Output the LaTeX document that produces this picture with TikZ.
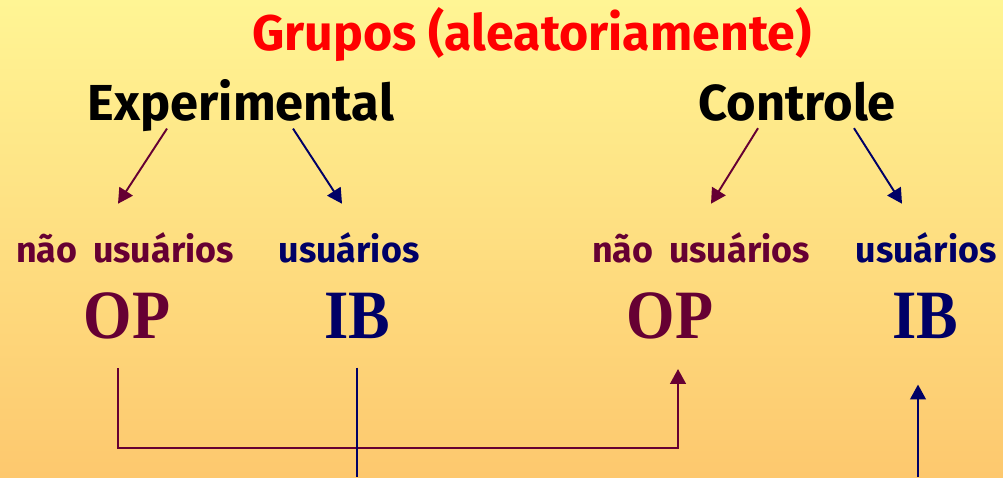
\documentclass[tikz,border=0pt]{standalone}
\usepackage{fontspec}
\setmainfont{Liberation Serif}
\newfontfamily\comicfont{Fira Sans}
\newfontfamily\opfont[FakeStretch=0.9]{Liberation Serif}
\usetikzlibrary{arrows.meta,calc}

\definecolor{vinho}{RGB}{102,0,51}
\definecolor{marinho}{RGB}{0,0,102}
\definecolor{fundotopo}{RGB}{255,245,148}
\definecolor{fundobase}{RGB}{253,200,110}

\tikzset{
  titulo/.style={anchor=base, inner sep=0pt, text=red, font=\comicfont\bfseries\fontsize{28.5}{32}\selectfont},
  grupo/.style={anchor=base, inner sep=0pt, font=\comicfont\bfseries\fontsize{28.8}{32}\selectfont},
  uso/.style={anchor=base, inner sep=0pt, font=\comicfont\bfseries\fontsize{20.4}{24}\selectfont},
  sigla/.style={anchor=base, inner sep=0pt, font=\opfont\bfseries\fontsize{39.4}{42}\selectfont},
  seta/.style={-{Triangle[length=8.5pt,width=9pt]}, line width=1.1pt},
  linha/.style={line width=1.3pt}
}

\begin{document}
\begin{tikzpicture}[x=0.02cm, y=-0.02cm]
  \shade[top color=fundotopo, bottom color=fundobase] (0,0) rectangle (1003,477);
  \useasboundingbox (0,0) rectangle (1003,477);

  \node[titulo] (tit) at (532,50) {Grupos (aleatoriamente)};
  \node[grupo] (exp) at (241,120) {Experimental};
  \node[grupo] (con) at (797,120) {Controle};

  \node[uso, text=vinho] (nu1) at (125,262) {não\hspace{4pt} usuários};
  \node[uso, text=marinho] (us1) at (349,262) {usuários};
  \node[uso, text=vinho] (nu2) at (701,262) {não\hspace{4pt} usuários};
  \node[uso, text=marinho] (us2) at (926,262) {usuários};

  \node[sigla, text=vinho] (op1) at (127,338) {OP};
  \node[sigla, text=marinho] (ib1) at (357,338) {IB};
  \node[sigla, text=vinho] (op2) at (670,338) {OP};
  \node[sigla, text=marinho] (ib2) at (925,338) {IB};

  % setas dos grupos
  \draw[seta, vinho] ($(exp.south)+(-74,-3)$) -- ($(nu1.north)+(-7,-28)$);
  \draw[seta, marinho] ($(exp.south)+(52,-3)$) -- ($(us1.north)+(-7,-28)$);
  \draw[seta, vinho] ($(con.south)+(-39,7)$) -- ($(nu2.north)+(10,-28)$);
  \draw[seta, marinho] ($(con.south)+(57,7)$) -- ($(us2.north)+(-24,-28)$);

  % ligacoes de baixo
  \coordinate (fim1) at (357,477);
  \coordinate (fim2) at (918,477);
  \draw[linha, vinho, seta] ($(op1.south)+(-9,29)$) -- ++(0,80) -| ($(op2.south)+(8,30)$);
  \draw[linha, marinho] ($(ib1.south)+(0,29)$) -- (fim1);
  \draw[linha, marinho, seta] (fim2) -- ($(ib2.south)+(-7,46)$);
\end{tikzpicture}
\end{document}
